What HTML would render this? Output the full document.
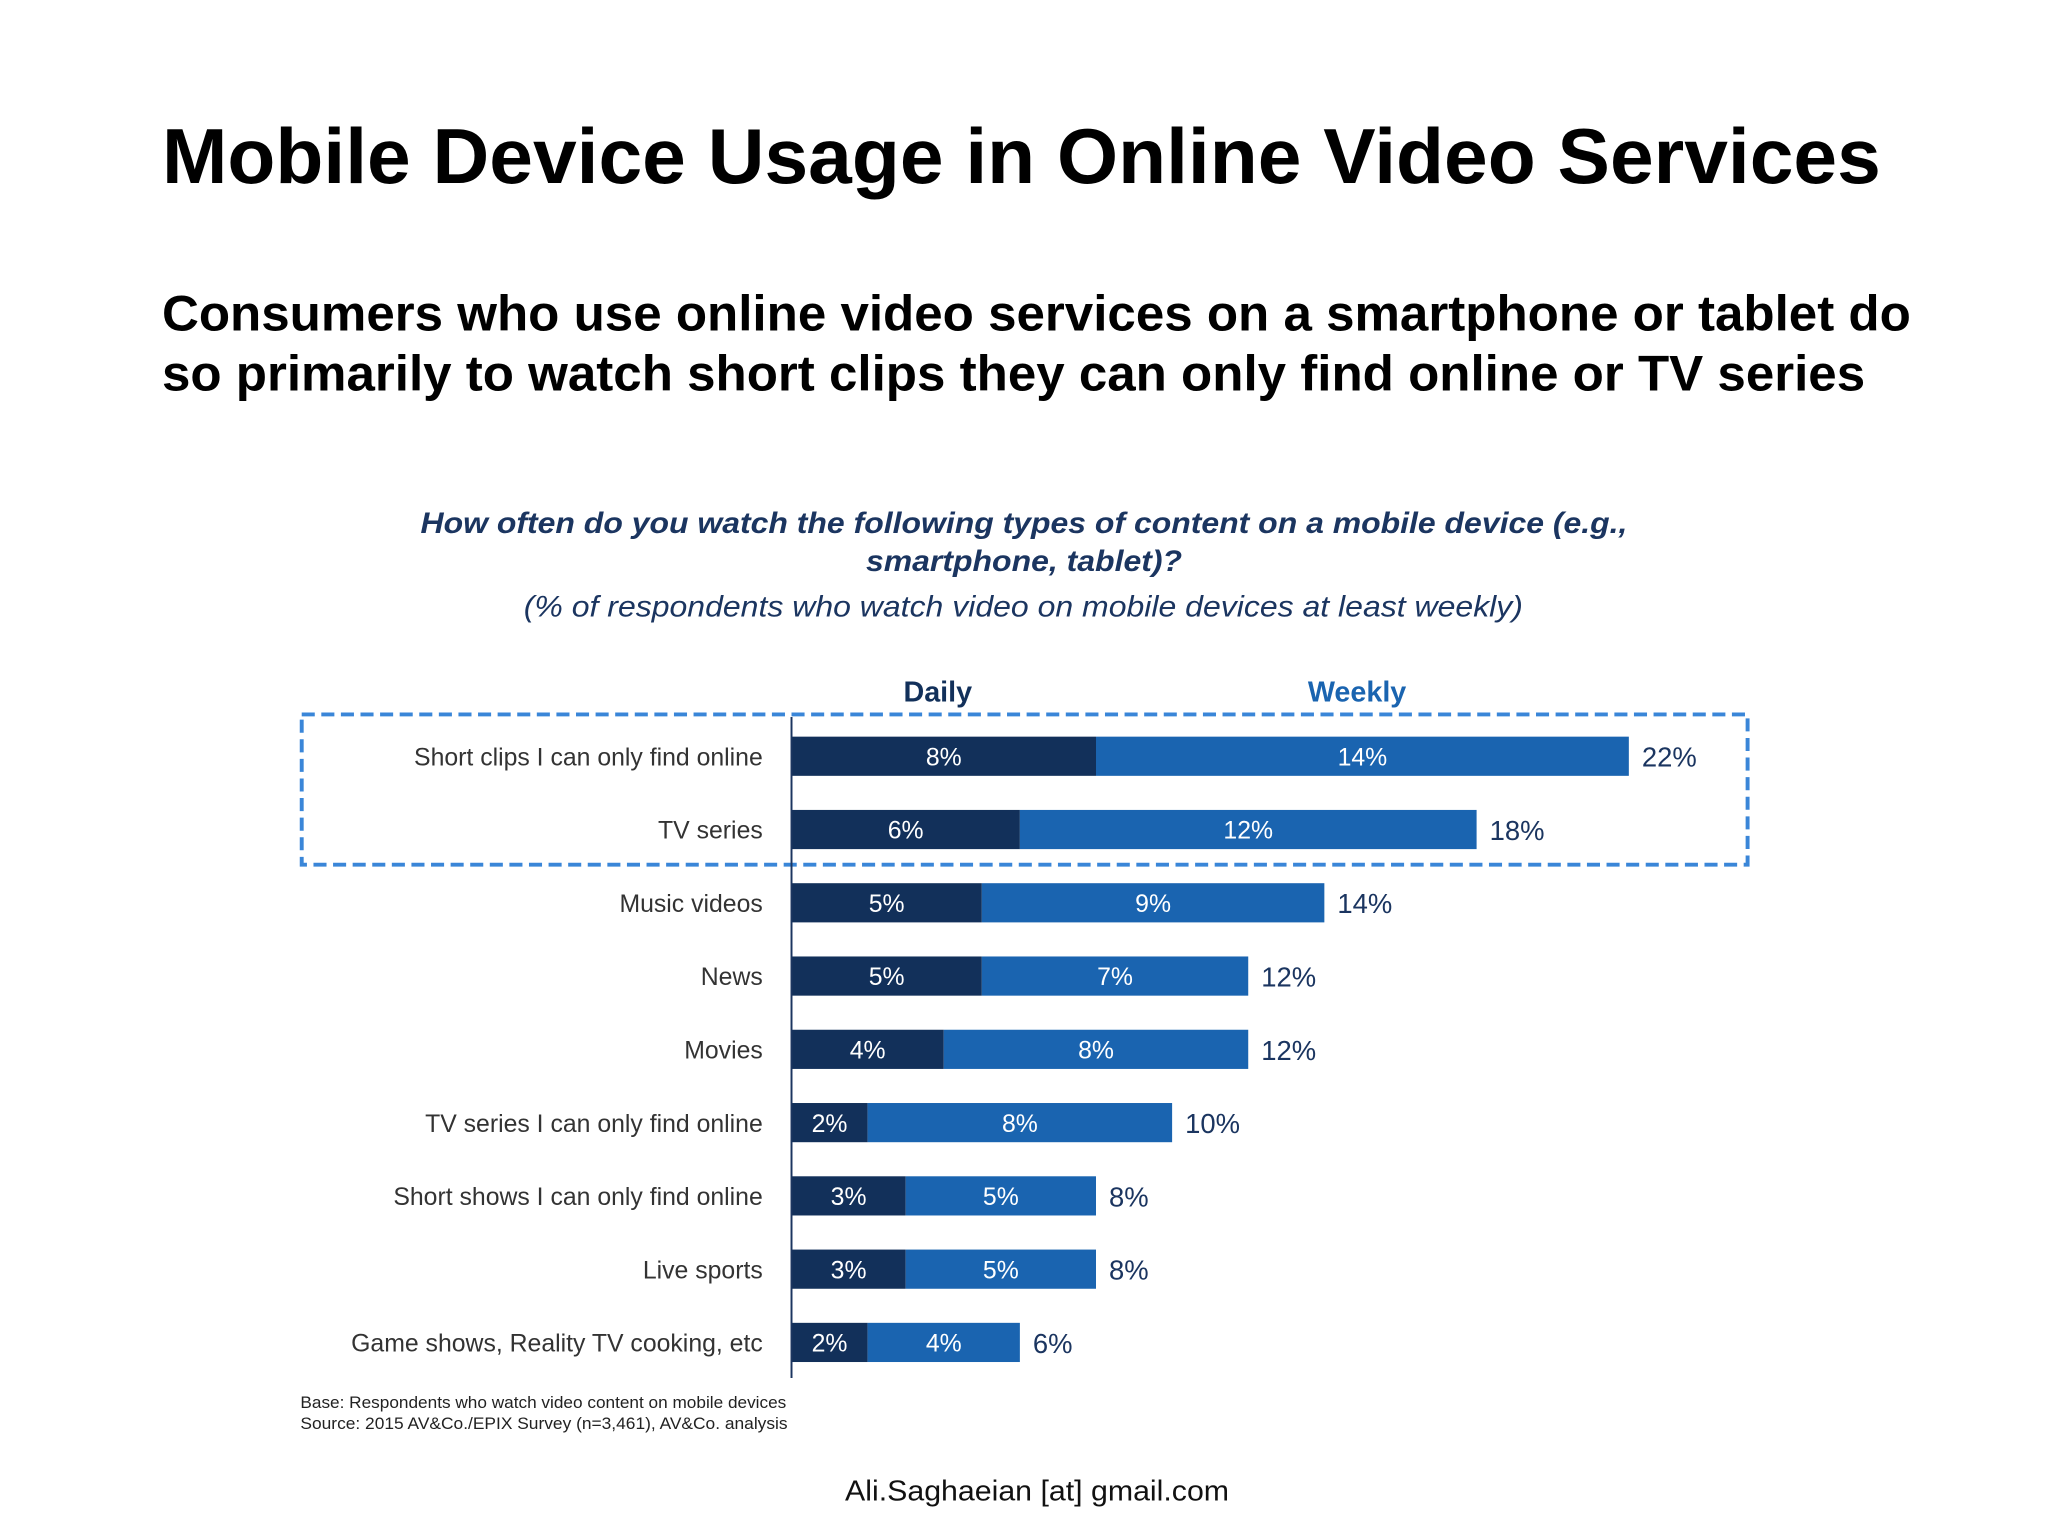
<!DOCTYPE html>
<html><head><meta charset="utf-8"><style>
html,body{margin:0;padding:0;background:#fff;}
svg{display:block;font-family:"Liberation Sans",sans-serif;}
</style></head><body>
<svg id="chart" width="2048" height="1536" viewBox="0 0 1568 1176" xmlns="http://www.w3.org/2000/svg">
<rect width="1568" height="1176" fill="#fff"/>
<text x="124" y="140" font-size="60" font-weight="bold" fill="#000" textLength="1316" lengthAdjust="spacingAndGlyphs">Mobile Device Usage in Online Video Services</text>
<text x="124" y="253" font-size="38" font-weight="bold" fill="#000" textLength="1339" lengthAdjust="spacingAndGlyphs">Consumers who use online video services on a smartphone or tablet do</text>
<text x="124" y="299" font-size="38" font-weight="bold" fill="#000" textLength="1304" lengthAdjust="spacingAndGlyphs">so primarily to watch short clips they can only find online or TV series</text>
<text x="322" y="408" font-size="23" font-weight="bold" font-style="italic" fill="#1b3560" textLength="924" lengthAdjust="spacingAndGlyphs">How often do you watch the following types of content on a mobile device (e.g.,</text>
<text x="663" y="437" font-size="23" font-weight="bold" font-style="italic" fill="#1b3560" textLength="242" lengthAdjust="spacingAndGlyphs">smartphone, tablet)?</text>
<text x="401" y="472" font-size="23" font-style="italic" fill="#1b3560" textLength="765" lengthAdjust="spacingAndGlyphs">(% of respondents who watch video on mobile devices at least weekly)</text>
<text x="718" y="537" font-size="22" font-weight="bold" fill="#12305a" text-anchor="middle">Daily</text>
<text x="1039" y="537" font-size="22" font-weight="bold" fill="#1a64b0" text-anchor="middle">Weekly</text>
<rect x="231" y="547" width="1107" height="115" fill="none" stroke="#3a86d8" stroke-width="3" stroke-dasharray="10,5"/>
<g id="bars"></g>
<line x1="606" y1="549" x2="606" y2="1055" stroke="#1b3560" stroke-width="1.5"/>
<text x="230" y="1078" font-size="12.5" fill="#222" textLength="372" lengthAdjust="spacingAndGlyphs">Base: Respondents who watch video content on mobile devices</text>
<text x="230" y="1094" font-size="12.5" fill="#222" textLength="373" lengthAdjust="spacingAndGlyphs">Source: 2015 AV&amp;Co./EPIX Survey (n=3,461), AV&amp;Co. analysis</text>
<text x="647" y="1149" font-size="22" fill="#111" textLength="294" lengthAdjust="spacingAndGlyphs">Ali.Saghaeian [at] gmail.com</text>
</svg>
<script>
const categories = ["Short clips I can only find online","TV series","Music videos","News","Movies","TV series I can only find online","Short shows I can only find online","Live sports","Game shows, Reality TV cooking, etc"];
const dailyValues = [8,6,5,5,4,2,3,3,2];
const weeklyValues = [14,12,9,7,8,8,5,5,4];
const totalValues = [22,18,14,12,12,10,8,8,6];
const NS = "http://www.w3.org/2000/svg";
const x0 = 606, pxPerPct = 29.14, rowTop = 579, rowGap = 56.1, barH = 30;
const xScale = v => x0 + v * pxPerPct;
const yScale = i => rowTop + i * rowGap;
const g = document.getElementById("bars");
function mk(tag, attrs, txt) {
  const e = document.createElementNS(NS, tag);
  for (const k in attrs) e.setAttribute(k, attrs[k]);
  if (txt !== undefined) e.textContent = txt;
  g.appendChild(e);
  return e;
}
categories.forEach((c, i) => {
  const yc = yScale(i);
  const d = dailyValues[i], w = weeklyValues[i], t = totalValues[i];
  const lab = mk("text", {x: 584, y: yc + 7, "font-size": 19, fill: "#333", "text-anchor": "end"}, c);
  
  
  const bd = mk("rect", {x: xScale(0), y: yc - barH/2, width: xScale(d) - xScale(0), height: barH, fill: "#12305a"});
  
  
  const bw = mk("rect", {x: xScale(d), y: yc - barH/2, width: xScale(d + w) - xScale(d), height: barH, fill: "#1a64b0"});
  
  
  const ld = mk("text", {x: (xScale(0) + xScale(d)) / 2, y: yc + 7, "font-size": 19, fill: "#fff", "text-anchor": "middle"}, d + "%");
  
  
  const lw = mk("text", {x: (xScale(d) + xScale(d + w)) / 2, y: yc + 7, "font-size": 19, fill: "#fff", "text-anchor": "middle"}, w + "%");
  
  
  const lt = mk("text", {x: xScale(d + w) + 10, y: yc + 8, "font-size": 21, fill: "#1b3560"}, t + "%");
  
  
});
</script>
</body></html>
